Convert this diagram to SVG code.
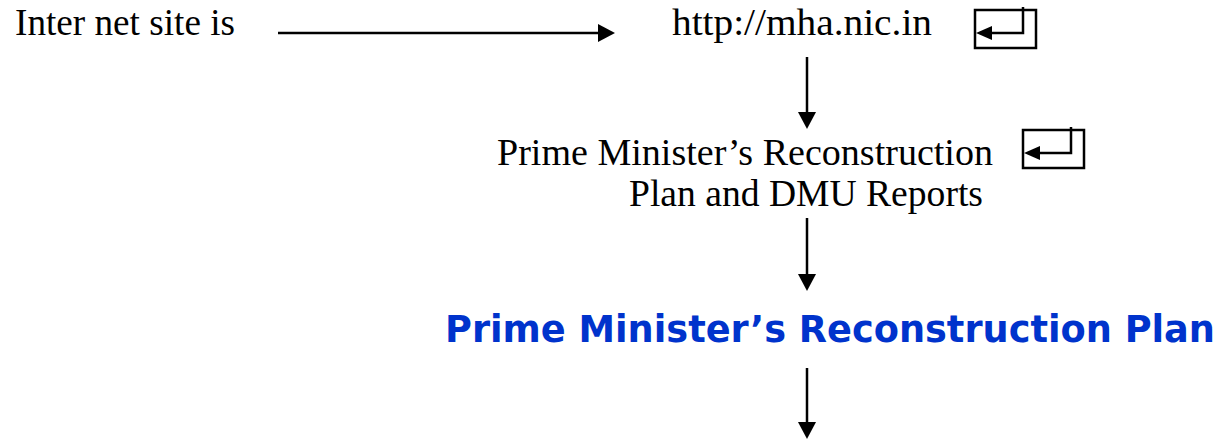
<svg xmlns="http://www.w3.org/2000/svg" width="1221" height="441" viewBox="0 0 1221 441">
<style>
.t{font-family:"Liberation Serif","Times New Roman",serif;font-size:38px;fill:#000}
.b{font-family:Verdana,"DejaVu Sans",sans-serif;font-weight:bold;font-size:37px;fill:#0033cc}
.ln{stroke:#000;stroke-width:2.5;fill:none}
.box{stroke:#000;stroke-width:2.5;fill:#fff}
.hd{fill:#000}
</style>
<defs>
<g id="enterIcon">
<rect class="box" x="0" y="0" width="61" height="38"/>
<polyline class="ln" points="48,-3 48,23 14,23"/>
<polygon class="hd" points="17,16 17,30 1,23"/>
</g>
</defs>
<g id="connectors">
<line class="ln" x1="278" y1="33" x2="600" y2="33"/>
<polygon class="hd" points="598,24 615,33 598,42"/>
<line class="ln" x1="807" y1="57" x2="807" y2="114"/>
<polygon class="hd" points="798,112 816,112 807,129"/>
<line class="ln" x1="807" y1="218" x2="807" y2="276"/>
<polygon class="hd" points="798,274 816,274 807,291"/>
<line class="ln" x1="807" y1="368" x2="807" y2="424"/>
<polygon class="hd" points="798,422 816,422 807,439"/>
</g>
<g id="label-internet">
<text class="t" x="15" y="35" textLength="220" lengthAdjust="spacingAndGlyphs">Inter net site is</text>
</g>
<g id="node-url">
<text class="t" x="672" y="35" textLength="260" lengthAdjust="spacingAndGlyphs">http://mha.nic.in</text>
<use href="#enterIcon" x="975" y="10"/>
</g>
<g id="node-pm-dmu">
<text class="t" x="497" y="165" textLength="496" lengthAdjust="spacingAndGlyphs">Prime Minister’s Reconstruction</text>
<text class="t" x="629" y="206" textLength="354" lengthAdjust="spacingAndGlyphs">Plan and DMU Reports</text>
<use href="#enterIcon" x="1023" y="130"/>
</g>
<g id="node-pm-plan">
<text class="b" x="445" y="342" textLength="770" lengthAdjust="spacingAndGlyphs">Prime Minister’s Reconstruction Plan</text>
</g>
</svg>
